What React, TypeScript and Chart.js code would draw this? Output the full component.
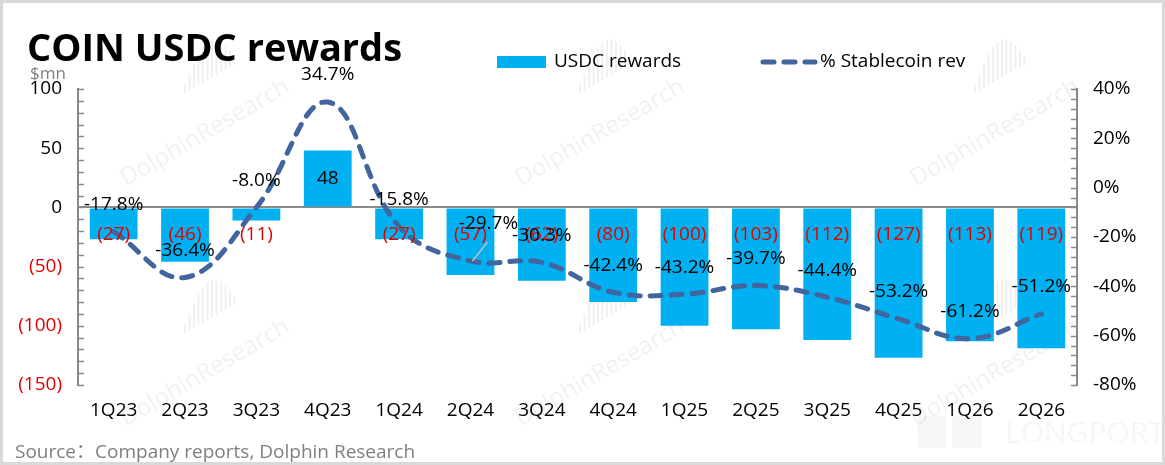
import React, { useEffect, useRef } from "react";
import { Chart, registerables } from "chart.js";

Chart.register(...registerables);

const categories = [
  "1Q23", "2Q23", "3Q23", "4Q23", "1Q24", "2Q24", "3Q24",
  "4Q24", "1Q25", "2Q25", "3Q25", "4Q25", "1Q26", "2Q26",
];
// USDC rewards, $mn
const usdcRewards = [-27, -46, -11, 48, -27, -57, -62, -80, -100, -103, -112, -127, -113, -119];
// USDC rewards as % of stablecoin revenue
const stablecoinPct = [-17.8, -36.4, -8.0, 34.7, -15.8, -29.7, -30.3, -42.4, -43.2, -39.7, -44.4, -53.2, -61.2, -51.2];

const leftMin = -150;
const leftMax = 100;
const leftStep = 50;
const rightMin = -80;
const rightMax = 40;
const rightStep = 20;

const FONT = '"Open Sans", "Noto Sans CJK SC", sans-serif';
const BLUE = "#00B0F0";
const LINE = "#41659C";
const RED = "#E00000";
const AXIS = "#8a8a8a";

const fmtAmount = (v: number) => (v < 0 ? `(${Math.abs(v)})` : `${v}`);

// draws title, legend, labels, minor ticks and watermarks
const decorPlugin = {
  id: "decor",
  beforeDraw(chart: any) {
    const { ctx, width, height } = chart;
    ctx.save();
    ctx.fillStyle = "#ffffff";
    ctx.fillRect(0, 0, width, height);

    // faint watermarks
    ctx.fillStyle = "rgba(0,0,0,0.06)";
    ctx.strokeStyle = "rgba(0,0,0,0.06)";
    ctx.font = `24px ${FONT}`;
    ctx.textAlign = "center";
    ctx.textBaseline = "middle";
    const marks = [
      [205, 133], [600, 133], [995, 133],
      [205, 373], [600, 373], [995, 373],
    ];
    marks.forEach(([cx, cy]) => {
      ctx.save();
      ctx.translate(cx, cy);
      ctx.rotate(-Math.PI / 6);
      ctx.fillText("DolphinResearch", 0, 0);
      ctx.restore();
      // bar logo
      ctx.lineWidth = 2;
      for (let k = 0; k < 12; k++) {
        const x = cx - 20 + k * 4.5;
        const base = cy - 40 - k * 2.6;
        const h = 8 + Math.sin((k / 11) * Math.PI) * 30;
        ctx.beginPath();
        ctx.moveTo(x, base);
        ctx.lineTo(x, base - h);
        ctx.stroke();
      }
    });
    ctx.fillStyle = "rgba(0,0,0,0.035)";
    ctx.fillRect(918, 416, 28, 32);
    ctx.fillRect(952, 416, 30, 32);
    ctx.font = `30px ${FONT}`;
    ctx.textAlign = "left";
    ctx.fillText("LONGPORT", 1005, 434);
    ctx.restore();
  },
  afterDraw(chart: any) {
    const { ctx, width, height, chartArea } = chart;
    const yL = chart.scales.y;
    const yR = chart.scales.y1;
    ctx.save();

    // minor ticks, pointing into the plot
    ctx.strokeStyle = AXIS;
    ctx.lineWidth = 1.5;
    for (let v = leftMin; v <= leftMax; v += 10) {
      const py = Math.round(yL.getPixelForValue(v)) + 0.5;
      ctx.beginPath();
      ctx.moveTo(chartArea.left, py);
      ctx.lineTo(chartArea.left + 6, py);
      ctx.stroke();
    }
    for (let v = rightMin; v <= rightMax; v += 4) {
      const py = Math.round(yR.getPixelForValue(v)) + 0.5;
      ctx.beginPath();
      ctx.moveTo(chartArea.right - 6, py);
      ctx.lineTo(chartArea.right, py);
      ctx.stroke();
    }

    // bar labels
    const barMeta = chart.getDatasetMeta(0);
    const zeroY = yL.getPixelForValue(0);
    ctx.font = `19px ${FONT}`;
    ctx.textAlign = "center";
    ctx.textBaseline = "middle";
    barMeta.data.forEach((bar: any, i: number) => {
      const v = usdcRewards[i];
      if (v < 0) {
        ctx.fillStyle = RED;
        ctx.fillText(fmtAmount(v), bar.x, zeroY + 27);
      } else {
        ctx.fillStyle = "#000000";
        ctx.fillText(fmtAmount(v), bar.x, (bar.y + zeroY) / 2);
      }
    });

    // line labels
    const lineMeta = chart.getDatasetMeta(1);
    lineMeta.data.forEach((pt: any, i: number) => {
      let dx = 0;
      let dy = -27;
      if (i === 5) {
        dx = 18;
        dy = -37;
        ctx.strokeStyle = "#bfbfbf";
        ctx.lineWidth = 1.5;
        ctx.beginPath();
        ctx.moveTo(pt.x + 17, pt.y - 19);
        ctx.lineTo(pt.x + 2, pt.y);
        ctx.stroke();
      }
      ctx.fillStyle = "#000000";
      ctx.fillText(`${stablecoinPct[i].toFixed(1)}%`, pt.x + dx, pt.y + dy);
    });

    // title and unit
    ctx.textAlign = "left";
    ctx.textBaseline = "alphabetic";
    ctx.fillStyle = "#000000";
    ctx.font = `bold 38px ${FONT}`;
    ctx.fillText("COIN USDC rewards", 27, 61);
    ctx.fillStyle = "#7f7f7f";
    ctx.font = `17px ${FONT}`;
    ctx.textBaseline = "middle";
    ctx.fillText("$mn", 30, 74);

    // legend
    ctx.fillStyle = BLUE;
    ctx.fillRect(497, 56, 49, 12);
    ctx.fillStyle = "#000000";
    ctx.font = `19px ${FONT}`;
    ctx.fillText("USDC rewards", 554, 62);
    ctx.strokeStyle = LINE;
    ctx.lineWidth = 5;
    ctx.lineCap = "round";
    ctx.setLineDash([11, 10]);
    ctx.beginPath();
    ctx.moveTo(763, 62);
    ctx.lineTo(815, 62);
    ctx.stroke();
    ctx.setLineDash([]);
    ctx.fillText("% Stablecoin rev", 820, 62);

    // source
    ctx.fillStyle = "#7f7f7f";
    ctx.font = `19px ${FONT}`;
    ctx.fillText("Source：Company reports, Dolphin Research", 15, 453);

    // frame
    ctx.strokeStyle = "#d9d9d9";
    ctx.lineWidth = 3;
    ctx.strokeRect(1.5, 1.5, width - 3, height - 3);
    ctx.restore();
  },
};

const App: React.FC = () => {
  const chartRef = useRef<HTMLCanvasElement | null>(null);
  const chartInstance = useRef<Chart | null>(null);

  useEffect(() => {
    if (!chartRef.current) return;
    const ctx = chartRef.current.getContext("2d");
    if (!ctx) return;
    if (chartInstance.current) chartInstance.current.destroy();

    Chart.defaults.font.family = FONT;

    chartInstance.current = new Chart(ctx, {
      type: "bar",
      data: {
        labels: categories,
        datasets: [
          {
            type: "bar",
            label: "USDC rewards",
            data: usdcRewards,
            backgroundColor: BLUE,
            categoryPercentage: 1,
            barPercentage: 0.67,
            yAxisID: "y",
            order: 2,
          },
          {
            type: "line",
            label: "% Stablecoin rev",
            data: stablecoinPct,
            borderColor: LINE,
            borderWidth: 5,
            borderDash: [11, 10],
            borderCapStyle: "round",
            tension: 0.4,
            pointRadius: 0,
            fill: false,
            yAxisID: "y1",
            order: 1,
          } as any,
        ],
      },
      options: {
        responsive: false,
        animation: false,
        events: [],
        layout: { padding: { top: 89, left: 0, right: 0, bottom: 0 } },
        plugins: {
          legend: { display: false },
          tooltip: { enabled: false },
        },
        scales: {
          x: {
            grid: { display: false, drawTicks: false },
            border: { display: false },
            ticks: { color: "#000000", font: { size: 19 }, padding: 14, maxRotation: 0 },
            afterFit: (s: any) => {
              s.height = 80;
            },
          },
          y: {
            position: "left",
            min: leftMin,
            max: leftMax,
            ticks: {
              stepSize: leftStep,
              padding: 16,
              font: { size: 19 },
              color: (c: any) => (c.tick && c.tick.value < 0 ? RED : "#000000"),
              callback: (v: any) => fmtAmount(Number(v)),
            },
            grid: {
              drawTicks: false,
              lineWidth: 2,
              color: (c: any) => (c.tick && c.tick.value === 0 ? AXIS : "rgba(0,0,0,0)"),
            },
            border: { display: true, color: AXIS, width: 2 },
            afterFit: (s: any) => {
              s.width = 78;
            },
          },
          y1: {
            position: "right",
            min: rightMin,
            max: rightMax,
            ticks: {
              stepSize: rightStep,
              padding: 16,
              font: { size: 19 },
              color: "#000000",
              callback: (v: any) => `${v}%`,
            },
            grid: { drawOnChartArea: false, drawTicks: false },
            border: { display: true, color: AXIS, width: 2 },
            afterFit: (s: any) => {
              s.width = 88;
            },
          },
        },
      },
      plugins: [decorPlugin],
    });

    return () => {
      if (chartInstance.current) {
        chartInstance.current.destroy();
        chartInstance.current = null;
      }
    };
  }, []);

  return (
    <div style={{ position: "fixed", left: 0, top: 0, width: 1165, height: 465, background: "#fff" }}>
      <canvas ref={chartRef} width={1165} height={465} style={{ display: "block" }}></canvas>
    </div>
  );
};

export default App;
